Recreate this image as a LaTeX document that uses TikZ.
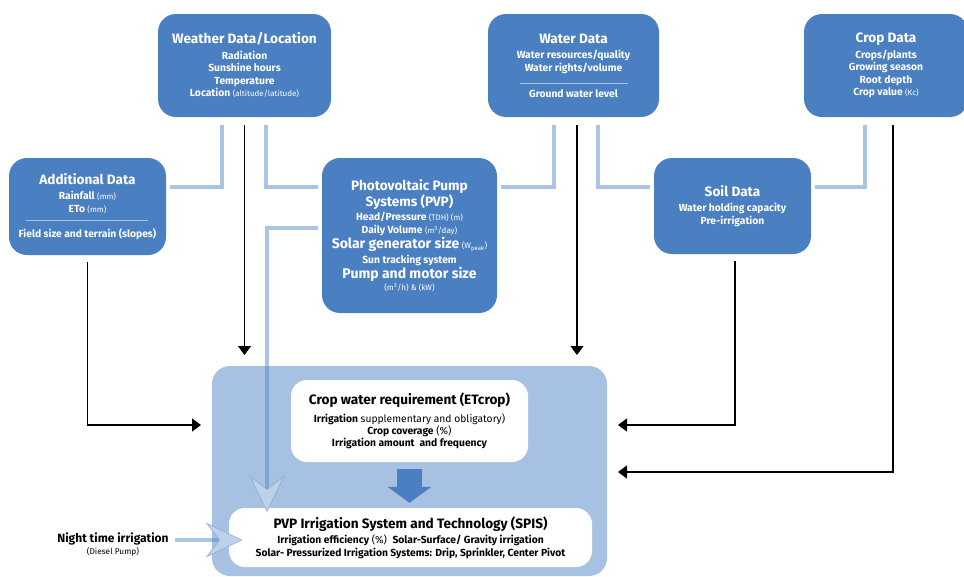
\documentclass[tikz,border=0pt]{standalone}
\usepackage{fontspec}
\setmainfont{Fira Sans}
\usetikzlibrary{arrows.meta}
\definecolor{boxblue}{RGB}{74,127,193}
\definecolor{paleblue}{RGB}{167,193,226}
\definecolor{lineblue}{RGB}{87,137,200}
\definecolor{chevblue}{RGB}{125,160,212}
\newcommand{\sm}[1]{{\mdseries\fontsize{8}{9}\selectfont #1}}
\newcommand{\boxtitle}[1]{{\fontsize{13.6}{16}\selectfont #1}}
\newcommand{\sepline}[1]{\textcolor{paleblue}{\rule[3pt]{#1}{0.5pt}}}
\tikzset{
  databox/.style={fill=boxblue, rounded corners=18pt, text=white, align=center, inner sep=0pt,
    font=\bfseries\fontsize{10.3}{12.5}\selectfont},
  whitebox/.style={fill=white, rounded corners=16pt, align=center, inner sep=0pt,
    font=\fontsize{10.3}{12.3}\selectfont},
  feed/.style={draw=lineblue, draw opacity=0.5, line width=4pt},
  chev/.style={-{Stealth[length=38pt,width=36pt,inset=14pt,fill=paleblue!75!white,color=chevblue,line width=1pt]}},
  blk/.style={draw=black, line width=1.2pt, -{Triangle[length=9pt,width=13pt]}}
}
\begin{document}
\begin{tikzpicture}[x=1pt,y=-1pt]
\useasboundingbox (0,0) rectangle (964,576);
% input boxes
\node[databox, minimum width=173pt, minimum height=103pt] (weather) at (244.5,65.5)
  {\boxtitle{Weather Data/Location}\\[3pt] Radiation\\ Sunshine hours\\ Temperature\\ Location \sm{(altitude/latitude)}};
\node[databox, minimum width=171pt, minimum height=103pt] (water) at (573.5,65.5)
  {\boxtitle{Water Data}\\[3pt] Water resources/quality\\ Water rights/volume\\[3pt] \sepline{108pt}\\[-2pt] Ground water level};
\node[databox, minimum width=164pt, minimum height=103pt] (crop) at (886,65.5)
  {\boxtitle{Crop Data}\\[3pt] Crops/plants\\ Growing season\\ Root depth\\ Crop value \sm{(Kc)}};
\node[databox, minimum width=157pt, minimum height=97pt] (additional) at (87.5,206.5)
  {\boxtitle{Additional Data}\\[3pt] Rainfall \sm{(mm)}\\ ETo \sm{(mm)}\\[-1pt] \sepline{122pt}\\[1pt] Field size and terrain (slopes)};
\node[databox, minimum width=175pt, minimum height=155pt] (pvp) at (409.5,235.5)
  {\boxtitle{Photovoltaic Pump}\\ \boxtitle{Systems (PVP)}\\[2pt]
   Head/Pressure \sm{(TDH) (m)}\\
   Daily Volume \sm{(m\textsuperscript{3}/day)}\\[1pt]
   {\fontsize{14}{15}\selectfont Solar generator size} \sm{(W\textsubscript{peak})}\\[2pt]
   Sun tracking system\hspace*{26pt}\\[1pt]
   {\fontsize{14}{15}\selectfont Pump and motor size}\\[-1pt]
   \sm{(m\textsuperscript{3}/h) \& (kW)}};
\node[databox, minimum width=157pt, minimum height=96pt] (soil) at (732.5,206)
  {\boxtitle{Soil Data}\\[3pt] Water holding capacity\\ Pre-irrigation};
% irrigation area
\node[fill=paleblue, rounded corners=18pt, minimum width=395pt, minimum height=210pt] (irrarea) at (409.5,471) {};
\node[whitebox, minimum width=237pt, minimum height=82pt] (cropreq) at (409.5,421)
  {{\bfseries\fontsize{13.6}{15}\selectfont Crop water requirement (ETcrop)}\\[5pt]
   \textbf{Irrigation} supplementary and obligatory)\\
   \textbf{Crop coverage} (\%)\\
   \textbf{Irrigation amount\ \ and frequency}};
\node[whitebox, minimum width=363pt, minimum height=59pt] (spis) at (410.5,537.5)
  {{\bfseries\fontsize{13.6}{15}\selectfont PVP Irrigation System and Technology (SPIS)}\\[3pt]
   \textbf{Irrigation efficiency} (\%)\ \ \textbf{Solar-Surface/ Gravity irrigation}\\
   \textbf{Solar- Pressurized Irrigation Systems: Drip, Sprinkler, Center Pivot}};
\node[align=center, inner sep=0pt] (night) at (113,545)
  {{\bfseries\fontsize{12}{13}\selectfont Night time irrigation}\\ {\fontsize{8.3}{10}\selectfont (Diesel Pump)}};
\coordinate (tipW) at (244.5,355);
\coordinate (tipV) at (577,355);
\coordinate (inL) at (201,425);
\coordinate (inR1) at (618,425);
\coordinate (inR2) at (618,472);
\coordinate (nightEnd) at (243,540);
% light feeds
\draw[feed, shorten <=8pt, shorten >=4pt] ([xshift=-22.5pt]weather.south) |- ([yshift=19.5pt]additional.east);
\draw[feed, shorten <=8pt, shorten >=4pt] ([xshift=21.5pt]weather.south) |- ([yshift=48.5pt]pvp.west);
\draw[feed, shorten <=8pt, shorten >=4pt] ([xshift=-19.5pt]water.south) |- ([yshift=48.5pt]pvp.east);
\draw[feed, shorten <=8pt, shorten >=4pt] ([xshift=24.5pt]water.south) |- ([yshift=19pt]soil.west);
\draw[feed, shorten <=8pt, shorten >=4pt] ([xshift=-21pt]crop.south) |- ([yshift=19pt]soil.east);
\draw[feed, chev, shorten <=4pt] ([yshift=7.5pt]pvp.west) -| ([xshift=-143.5pt,yshift=-5pt]spis.north);
\draw[feed, chev, shorten <=6pt] (night.east |- nightEnd) -- (nightEnd);
% black arrows
\draw[blk, shorten <=8pt] (weather) -- (tipW);
\draw[blk, shorten <=8pt] ([xshift=3.5pt]water.south) -- (tipV);
\draw[blk, shorten <=7pt] (additional) |- (inL);
\draw[blk, shorten <=7pt] ([xshift=2.5pt]soil.south) |- (inR1);
\draw[blk, shorten <=8pt] ([xshift=7pt]crop.south) |- (inR2);
% big arrow
\draw[boxblue, line width=25pt, shorten <=7pt, shorten >=5pt, -{Triangle[length=16pt,width=43pt]}]
  (cropreq.south) -- (cropreq.south |- spis.north);
\end{tikzpicture}
\end{document}
